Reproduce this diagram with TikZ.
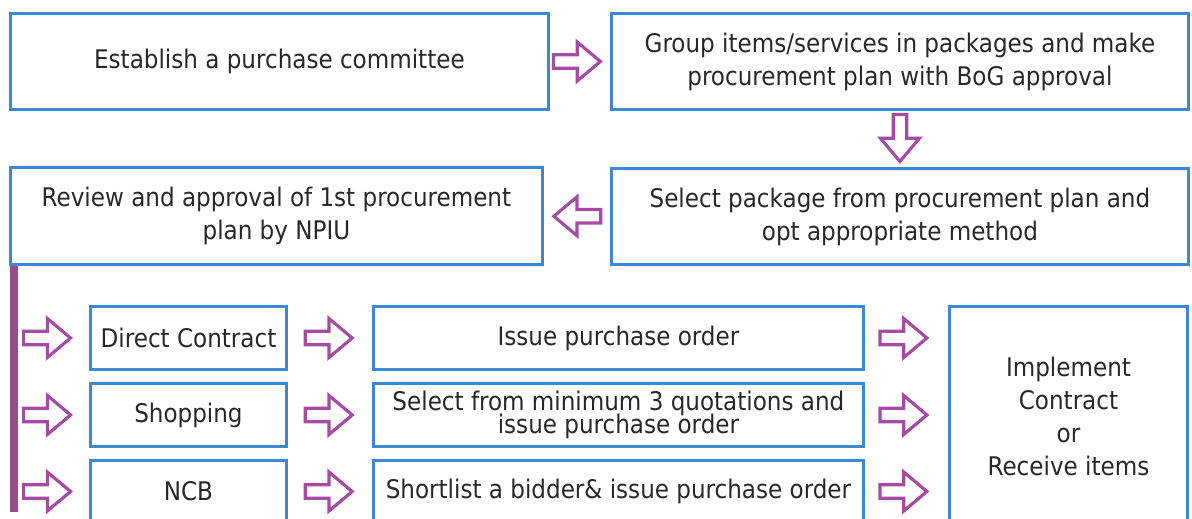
\documentclass[tikz,border=0pt]{standalone}
\usepackage{fontspec}
\setmainfont{DejaVu Sans Condensed}
\usepackage{tikz}
\usetikzlibrary{positioning,calc,shapes.arrows}
\definecolor{boxblue}{RGB}{62,135,215}
\definecolor{arrpurple}{RGB}{165,75,165}
\definecolor{barpurple}{RGB}{155,75,140}
\definecolor{txtgray}{RGB}{40,40,40}

\begin{document}
\begin{tikzpicture}[
  x=0.02cm, y=-0.02cm,
  box/.style={draw=boxblue,line width=1.7pt,fill=white,align=center,text=txtgray,anchor=north west,inner sep=2pt,font=\fontsize{14.6}{18.8}\selectfont},
  tight/.style={font=\fontsize{14.6}{13.8}\selectfont},
  blk/.style={single arrow,draw=arrpurple,line width=1.8pt,fill=white,minimum width=7.8mm,single arrow head extend=0.6mm,minimum height=9.4mm,single arrow tip angle=80,inner sep=0pt}
]
  \clip (0,0) rectangle (1192,518);
  \node[box,minimum width=10.76cm,minimum height=1.92cm] (est) at (9,12) {Establish a purchase committee};
  \node[box,minimum width=11.54cm,minimum height=1.92cm] (grp) at (610,12) {Group items/services in packages and make\\procurement plan with BoG approval};
  \node[box,minimum width=10.64cm,minimum height=1.94cm] (rev) at (9,166) {Review and approval of 1st procurement\\plan by NPIU};
  \node[box,minimum width=11.54cm,minimum height=1.92cm] (sel) at (610,167) {Select package from procurement plan and\\opt appropriate method};

  \node[box,minimum width=3.92cm,minimum height=1.26cm] (dc) at (89,305) {Direct Contract};
  \node[box,minimum width=3.92cm,minimum height=1.26cm] (shp) at (89,382) {Shopping};
  \node[box,minimum width=3.92cm,minimum height=1.24cm] (ncb) at (89,459) {NCB};
  \node[box,minimum width=9.8cm,minimum height=1.26cm] (iss) at (372,305) {Issue purchase order};
  \node[box,tight,minimum width=9.8cm,minimum height=1.26cm] (sel3) at (372,382) {Select from minimum 3 quotations and\\[-2pt]issue purchase order};
  \node[box,minimum width=9.8cm,minimum height=1.24cm] (srt) at (372,459) {Shortlist a bidder\& issue purchase order};
  \node[box,minimum width=4.76cm,minimum height=4.4cm] (imp) at (948,305) {Implement\\Contract\\or\\Receive items};

  \node[blk,xshift=-4] (a1) at ($(est.east)!0.5!(grp.west)$) {};
  \node[blk,rotate=-90] (a2) at ($(grp.south)!0.5!(sel.north)+(0,-5)$) {};
  \node[blk,rotate=180,xshift=-2.5] (a3) at ($(sel.west)!0.5!(rev.east)$) {};

  \coordinate (bar) at (18,512);
  \fill[barpurple] ($(rev.south west)+(1,0)$) rectangle (bar);
  \foreach \m/\s in {dc/iss,shp/sel3,ncb/srt} {
    \node[blk,anchor=west] (in-\m) at ($(bar |- \m.west)+(4,0)$) {};
    \node[blk,xshift=-3] (mid-\m) at ($(\m.east)!0.5!(\s.west)$) {};
    \node[blk,xshift=-4] (out-\m) at ($(\s.east)!0.5!(\s.east -| imp.west)$) {};
  }
\end{tikzpicture}
\end{document}
